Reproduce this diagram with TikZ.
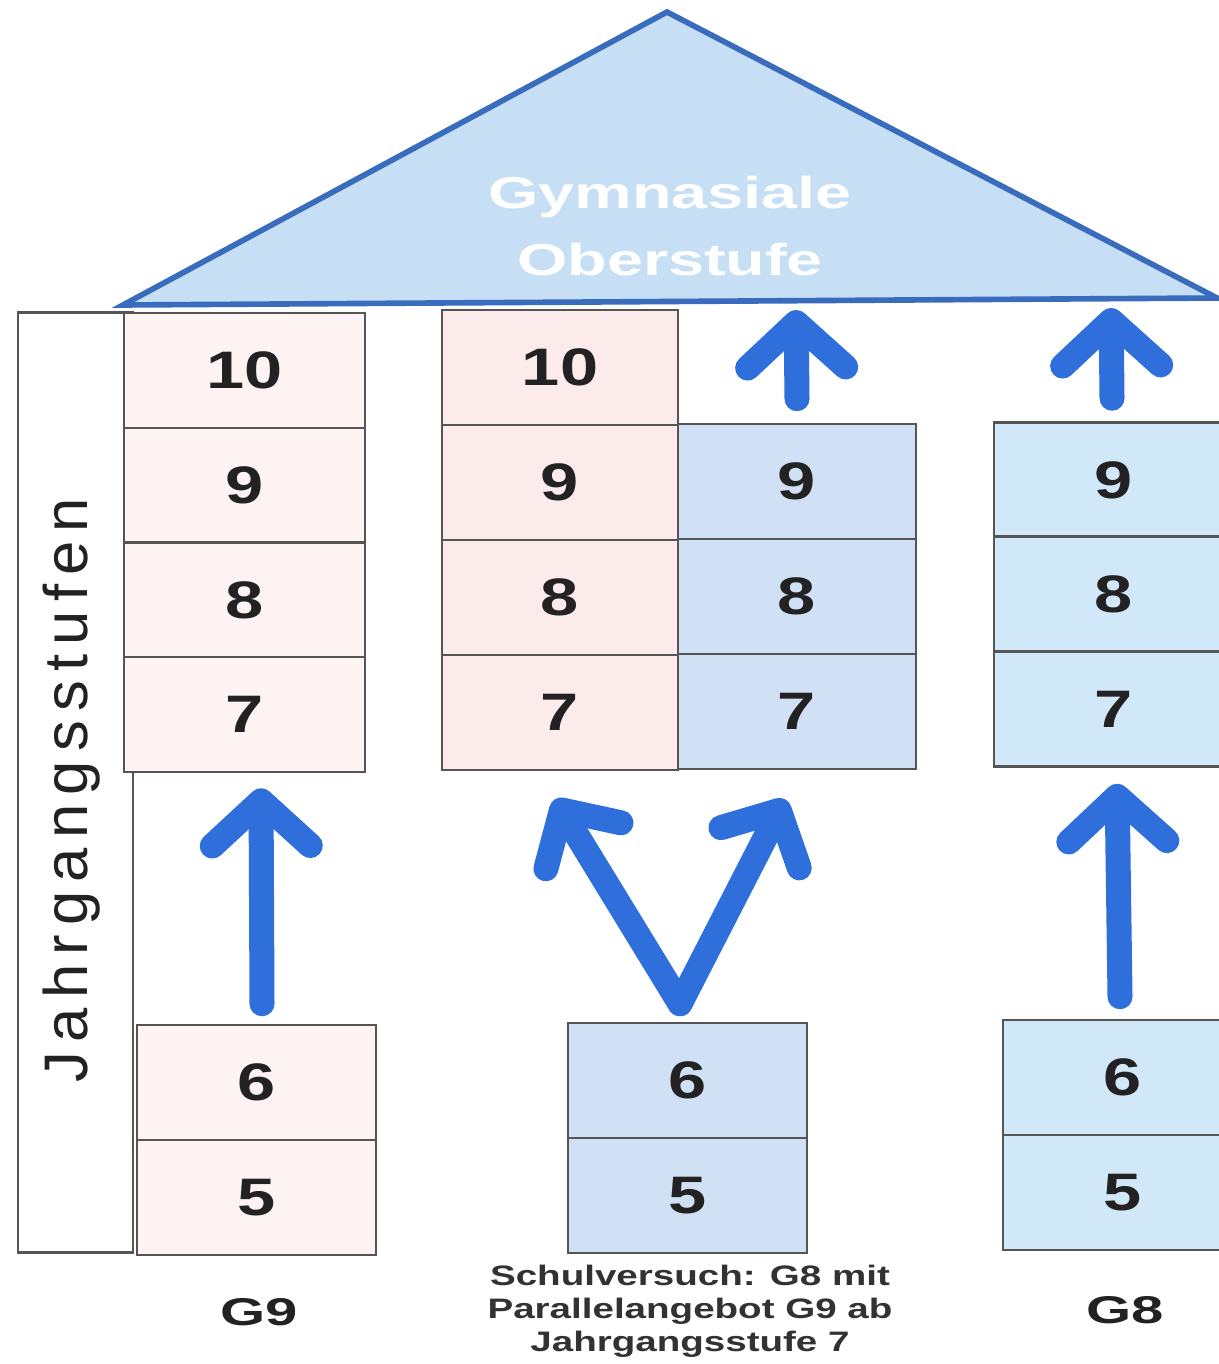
\documentclass[tikz,border=0pt]{standalone}
\usepackage{fontspec}
\setmainfont{Liberation Sans}
\newfontfamily\jfont[LetterSpace=15]{Liberation Sans}
\usetikzlibrary{arrows.meta,calc}
\definecolor{arrowblue}{RGB}{47,111,220}
\definecolor{trifill}{RGB}{198,223,244}
\definecolor{triedge}{RGB}{58,108,190}
\definecolor{pinkA}{RGB}{253,243,242}
\definecolor{pinkB}{RGB}{251,235,235}
\definecolor{blueA}{RGB}{208,225,246}
\definecolor{blueB}{RGB}{208,232,248}
\definecolor{edgegray}{RGB}{85,85,85}
\definecolor{txt}{RGB}{34,34,34}
\definecolor{txtb}{RGB}{50,50,50}
\newcommand{\dig}[1]{\scalebox{1.3}[1]{\bfseries #1}}
\newcommand{\wide}[2]{\scalebox{#1}[1]{#2}}
\begin{document}
\begin{tikzpicture}[x=0.01cm,y=-0.01cm,
  cell/.style={draw=edgegray, line width=0.7pt, minimum height=1.15cm, inner sep=0pt,
               font=\fontsize{15}{15}\selectfont, text=txt},
  arr/.style={draw=arrowblue, line width=0.25cm, line cap=round, line join=round,
              -{Straight Barb[length=0.45cm, width=0.98cm, round]}},
  varr/.style={arr, -{Straight Barb[length=0.42cm, width=0.88cm, round]}},
  lbl/.style={font=\bfseries\fontsize{11}{11}\selectfont, text=txt}
]
\useasboundingbox (0,0) rectangle (1219,1364);
\fill[white] (0,0) rectangle (1219,1364);
\clip (0,0) rectangle (1219,1364);

% roof
\draw[fill=trifill, draw=triedge, line width=1.6pt, line join=miter]
  (667,12) -- (1217,298) -- (123,305) -- cycle;
\node[text=white, font=\bfseries\fontsize{12.7}{19}\selectfont, align=center] (ober) at (670,226)
  {\wide{1.45}{Gymnasiale}\\\wide{1.45}{Oberstufe}};
\coordinate (ob1) at (796,310);
\coordinate (ob2) at (1111,308);

% side label
\node[draw=edgegray, line width=0.7pt, minimum width=1.15cm, minimum height=9.39cm] (jbox) at (75.5,782.5) {};
\node[rotate=90, font=\jfont\fontsize{17.5}{18}\selectfont, text=txt] (jtext) at (72,790) {Jahrgangsstufen};

% G9 column
\node[cell, fill=pinkA, minimum width=2.41cm] (g10) at (244.5,370.5) {\dig{10}};
\node[cell, fill=pinkA, minimum width=2.41cm] (g9)  at (244.5,485.5) {\dig{9}};
\node[cell, fill=pinkA, minimum width=2.41cm] (g8)  at (244.5,600) {\dig{8}};
\node[cell, fill=pinkA, minimum width=2.41cm] (g7)  at (244.5,714.5) {\dig{7}};
\node[cell, fill=pinkA, minimum width=2.39cm] (g6)  at (256.5,1082.5) {\dig{6}};
\node[cell, fill=pinkA, minimum width=2.39cm] (g5)  at (256.5,1197.5) {\dig{5}};

% middle column
\node[cell, fill=pinkB, minimum width=2.36cm] (m10) at (560,367.5) {\dig{10}};
\node[cell, fill=pinkB, minimum width=2.36cm] (m9p) at (560,482.5) {\dig{9}};
\node[cell, fill=pinkB, minimum width=2.36cm] (m8p) at (560,597.5) {\dig{8}};
\node[cell, fill=pinkB, minimum width=2.36cm] (m7p) at (560,712.5) {\dig{7}};
\node[cell, fill=blueA, minimum width=2.38cm] (m9b) at (797,481.5) {\dig{9}};
\node[cell, fill=blueA, minimum width=2.38cm] (m8b) at (797,596.5) {\dig{8}};
\node[cell, fill=blueA, minimum width=2.38cm] (m7b) at (797,711.5) {\dig{7}};
\node[cell, fill=blueA, minimum width=2.39cm] (m6) at (687.5,1080.5) {\dig{6}};
\node[cell, fill=blueA, minimum width=2.39cm] (m5) at (687.5,1195.5) {\dig{5}};

% right column
\node[cell, fill=blueB, minimum width=2.40cm] (r9) at (1114,480) {\dig{9}};
\node[cell, fill=blueB, minimum width=2.40cm] (r8) at (1114,594) {\dig{8}};
\node[cell, fill=blueB, minimum width=2.40cm] (r7) at (1114,709) {\dig{7}};
\node[cell, fill=blueB, minimum width=2.40cm] (r6) at (1123,1077.5) {\dig{6}};
\node[cell, fill=blueB, minimum width=2.40cm] (r5) at (1123,1192.5) {\dig{5}};

% arrows
\draw[arr] ([shift={(5.5,-20)}]g6.north) -- ([shift={(16.5,15)}]g7.south);
\draw[varr] ([shift={(-7.5,-18)}]m6.north) -- ([shift={(-5,28)}]m7p.south);
\draw[varr] ([shift={(-7.5,-18)}]m6.north) -- ([shift={(-12,29)}]m7b.south);
\draw[arr] ([shift={(0,-24)}]m9b.north) -- (ob1);
\draw[arr] ([shift={(-2,-23)}]r9.north) -- (ob2);
\draw[arr] ([shift={(-3,-22)}]r6.north) -- ([shift={(3,16)}]r7.south);

% bottom labels
\node[lbl] (lg9) at (259,1312) {\wide{1.5}{G9}};
\node[lbl] (lg8) at (1125,1310) {\wide{1.5}{G8}};
\node[font=\bfseries\fontsize{8}{9.4}\selectfont, text=txtb, align=center] (lsv) at (690,1311)
  {\wide{1.37}{Schulversuch: G8 mit}\\\wide{1.37}{Parallelangebot G9 ab}\\\wide{1.37}{Jahrgangsstufe 7}};
\end{tikzpicture}
\end{document}
